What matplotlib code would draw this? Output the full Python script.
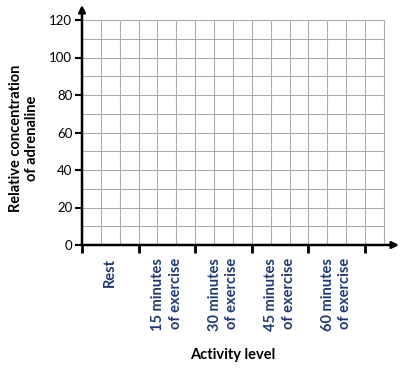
import matplotlib.pyplot as plt
import numpy as np

plt.rcParams['font.family'] = ['Lato', 'DejaVu Sans']

# categorias del eje x y ticks del eje y
categorias = ['Rest', '15 minutes\nof exercise', '30 minutes\nof exercise',
              '45 minutes\nof exercise', '60 minutes\nof exercise']
y_ticks = [0, 20, 40, 60, 80, 100, 120]

azul = '#1f3a6e'

fig = plt.figure(figsize=(4.06, 3.68), dpi=100)
ax = fig.add_axes([82 / 406, 123 / 368, 317 / 406, 240 / 368])
ax.set_xlim(0, 5.6)
ax.set_ylim(0, 128)

# cuadricula (cada 10 en y, cada 1/3 de categoria en x)
n_cols = 16
ax.hlines(np.arange(10, 121, 10), 0, n_cols / 3, color='#adadad', lw=0.8, zorder=1)
ax.vlines(np.arange(1, n_cols + 1) / 3, 0, 120, color='#adadad', lw=0.8, zorder=1)

for s in ax.spines.values():
    s.set_visible(False)

# ejes con flecha
ax.annotate('', xy=(5.6, 0), xytext=(0, 0), annotation_clip=False,
            arrowprops=dict(arrowstyle='-|>', color='black', lw=1.8,
                            mutation_scale=10, shrinkA=0, shrinkB=0), zorder=3)
ax.annotate('', xy=(0, 128), xytext=(0, 0), annotation_clip=False,
            arrowprops=dict(arrowstyle='-|>', color='black', lw=1.8,
                            mutation_scale=10, shrinkA=0, shrinkB=0), zorder=3)

ax.set_yticks(y_ticks)
ax.set_yticklabels([str(v) for v in y_ticks], fontsize=9.5)
ax.tick_params(axis='y', length=5, width=1.5, pad=2)

ax.set_xticks(range(len(categorias) + 1))
ax.set_xticklabels([])
ax.tick_params(axis='x', length=6, width=2)

for i, cat in enumerate(categorias):
    ax.text(i + 0.5, -7, cat, rotation=90, ha='center', va='top',
            multialignment='right', fontsize=10.5, fontweight='bold',
            color=azul, linespacing=1.3)

fig.text(233 / 406, 1 - 355 / 368, 'Activity level', ha='center', va='center',
         fontsize=10.5, fontweight='bold')
fig.text(24 / 406, 1 - 138 / 368, 'Relative concentration\nof adrenaline',
         rotation=90, ha='center', va='center', fontsize=10.5,
         fontweight='bold', linespacing=1.2)

plt.savefig('out.png', dpi=100)
